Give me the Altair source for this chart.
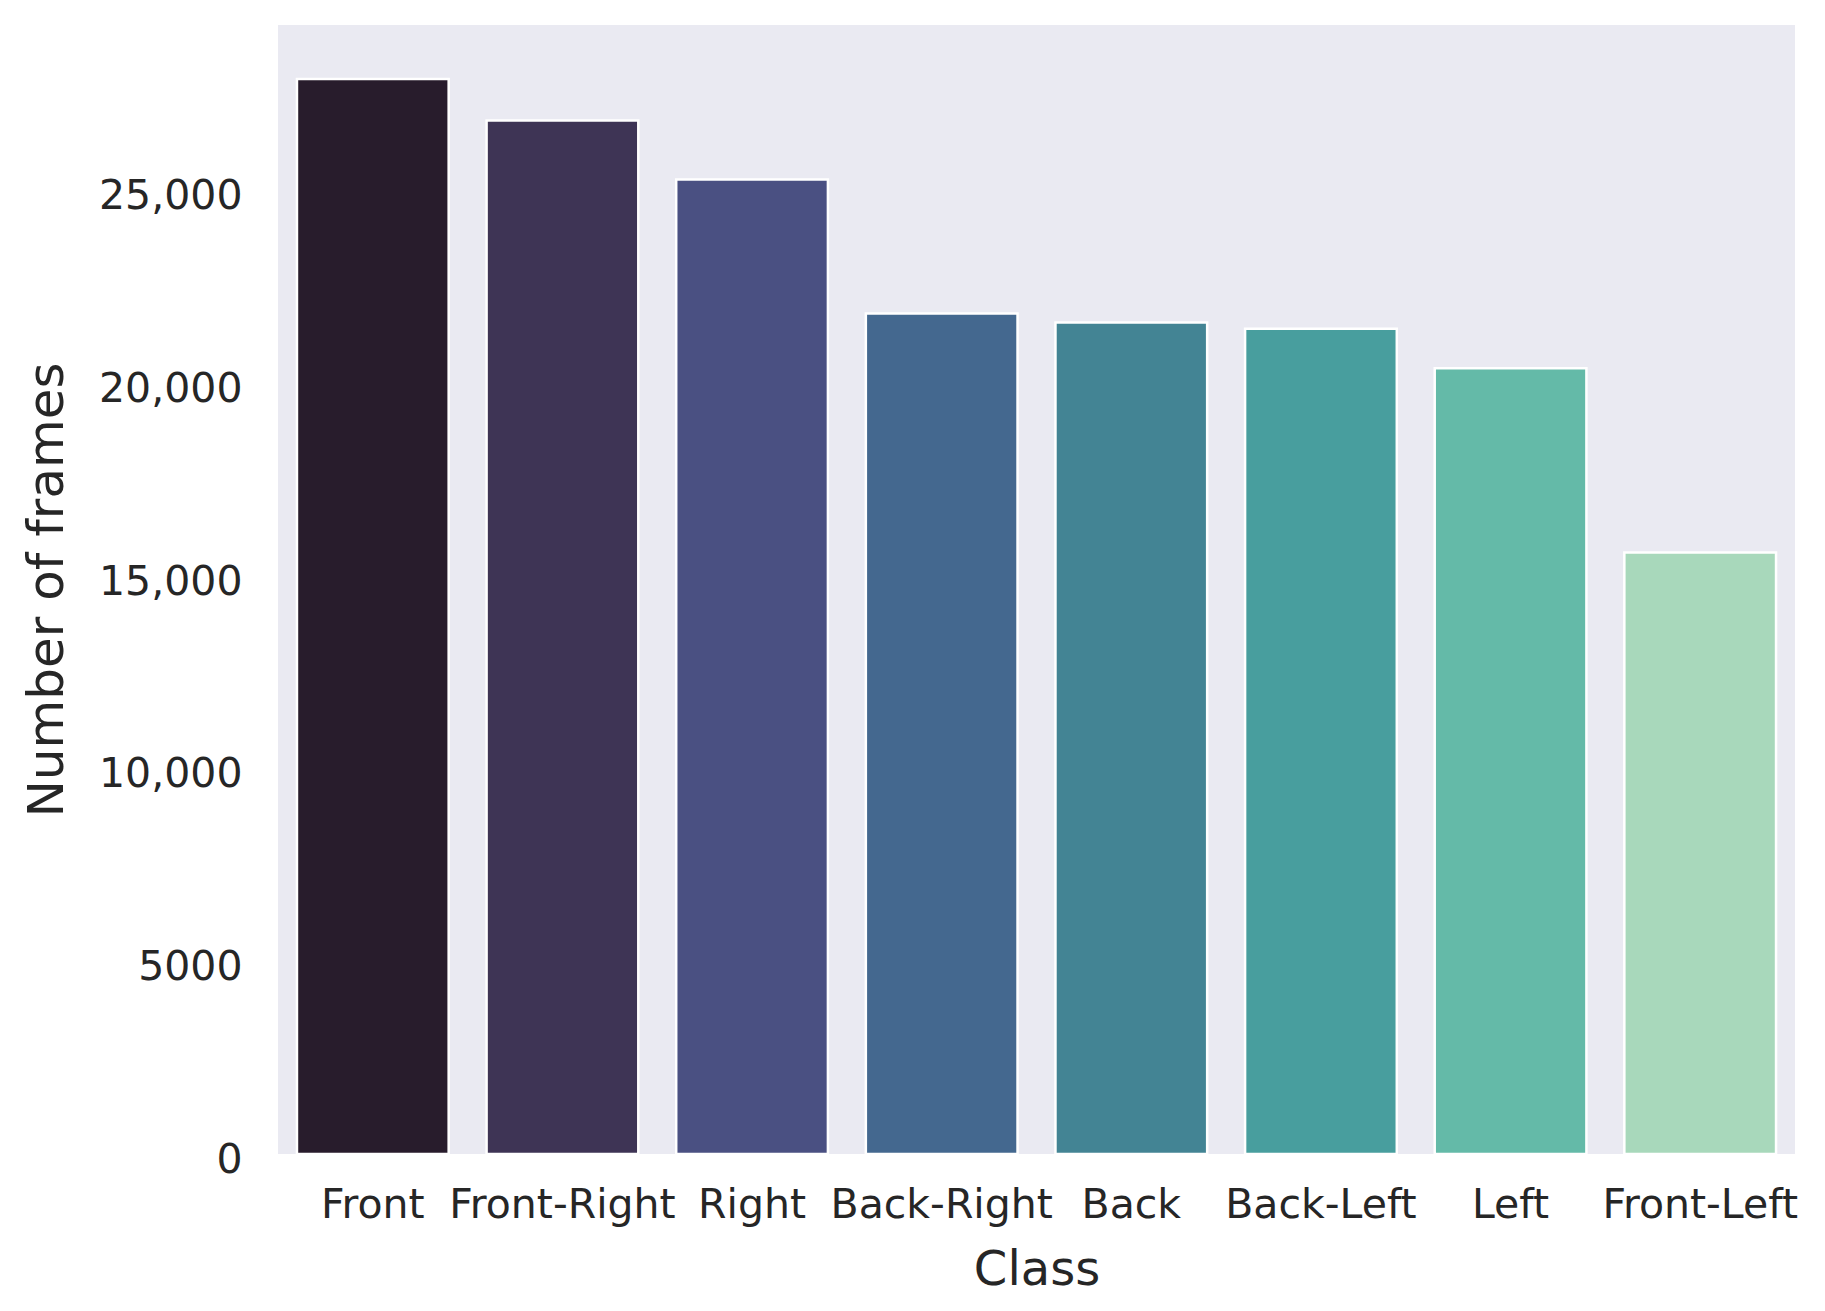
import altair as alt
import pandas as pd

categories = ["Front", "Front-Right", "Right", "Back-Right", "Back", "Back-Left", "Left", "Front-Left"]
frames = [27900, 26820, 25290, 21810, 21580, 21420, 20390, 15610]
colors = ["#281c2c", "#3e3455", "#4a5082", "#44688f", "#438494", "#489e9e", "#64baa8", "#a8d8bb"]
y_ticks = [0, 5000, 10000, 15000, 20000, 25000]

df = pd.DataFrame({"Class": categories, "Frames": frames})

FONT = "DejaVu Sans"
TXT = "#262626"

chart = alt.Chart(df).mark_bar(stroke="white", strokeWidth=2.5).encode(
    x=alt.X(
        "Class:N",
        sort=categories,
        scale=alt.Scale(paddingInner=0.2, paddingOuter=0.1),
        axis=alt.Axis(
            title="Class",
            labelAngle=0,
            labelFontSize=41,
            labelFont=FONT,
            labelColor=TXT,
            labelPadding=63,
            labelBaseline="alphabetic",
            labelLimit=0,
            ticks=False,
            tickSize=0,
            domain=False,
            grid=False,
            titleFont=FONT,
            titleFontSize=48,
            titleFontWeight="normal",
            titleColor=TXT,
            titleBaseline="alphabetic",
            titleY=130,
            labelOverlap=False,
        ),
    ),
    y=alt.Y(
        "Frames:Q",
        scale=alt.Scale(domain=[0, 29300], nice=False, zero=True),
        axis=alt.Axis(
            title="Number of frames",
            values=y_ticks,
            labelExpr="datum.value >= 10000 ? format(datum.value, ',') : format(datum.value, 'd')",
            labelFontSize=41,
            labelFont=FONT,
            labelColor=TXT,
            labelPadding=36,
            labelBaseline="middle",
            labelOffset=6,
            ticks=False,
            tickSize=0,
            domain=False,
            grid=False,
            titleFont=FONT,
            titleFontSize=50,
            titleFontWeight="normal",
            titleColor=TXT,
            titleAngle=-90,
            titleAlign="center",
            titleBaseline="alphabetic",
            titleX=-216,
            titleY=564.5,
        ),
    ),
    color=alt.Color("Class:N", scale=alt.Scale(domain=categories, range=colors), legend=None),
).properties(
    width=1517,
    height=1129,
    autosize=alt.AutoSizeParams(type="none"),
    padding={"left": 270, "top": 17, "right": 10, "bottom": 140},
    background="white",
).configure_view(
    fill="#EAEAF2",
    stroke=None,
)

chart.save("out.html", embed_options={"renderer": "svg", "actions": False})
